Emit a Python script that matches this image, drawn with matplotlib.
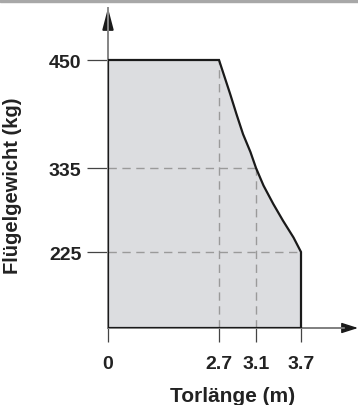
import numpy as np
import matplotlib
matplotlib.use("Agg")
import matplotlib.pyplot as plt
from matplotlib.patches import Rectangle

plt.rcParams['font.family'] = ['Liberation Sans', 'DejaVu Sans']

# Werte aus dem Diagramm
x_ticks = [0, 2.7, 3.1, 3.7]
x_labels = ["0", "2.7", "3.1", "3.7"]
y_ticks = [225, 335, 450]
y_labels = ["225", "335", "450"]

# Umriss der zulässigen Fläche (Torlänge m, Gewicht kg)
x_curve = [2.7, 2.76, 2.82, 2.89, 2.96, 3.04, 3.1, 3.2, 3.33, 3.46, 3.6, 3.7]
y_curve = [450, 432, 414, 392, 371, 352, 335, 312, 288, 266, 244, 225]
y_base = 0

# schematische (nicht lineare) Achsen: Stützstellen Daten -> Pixel
x_knots = [0, 2.7, 3.1, 3.7, 4.5]
x_pix = [0, 111, 148, 193, 250]
y_knots = [0, 225, 335, 450, 560]
y_pix = [0, 76, 160, 268, 320]


def fx(v):
    return np.interp(v, x_knots, x_pix)


def ix(v):
    return np.interp(v, x_pix, x_knots)


def fy(v):
    return np.interp(v, y_knots, y_pix)


def iy(v):
    return np.interp(v, y_pix, y_knots)


W, H = 358, 406
fig = plt.figure(figsize=(W / 100, H / 100), dpi=100)
ax = fig.add_axes([108 / W, 77 / H, 250 / W, 320 / H])
ax.set_xscale('function', functions=(fx, ix))
ax.set_yscale('function', functions=(fy, iy))
ax.set_xlim(0, 4.5)
ax.set_ylim(0, 560)

# grauer Balken oben
fig.patches.append(Rectangle((0, 1 - 3 / H), 1, 3 / H, transform=fig.transFigure,
                             color='#a8a8a8', zorder=0))

# Fläche
xs = [0, 0] + x_curve + [x_curve[-1], 0]
ys = [y_base, 450] + y_curve + [y_base, y_base]
ax.fill(xs, ys, color='#dcdde0', zorder=1)

# Hilfslinien gestrichelt
dash = dict(color='#9a9a9a', lw=1.0, ls=(0, (6, 4)), zorder=2)
ax.plot([0, 3.1], [335, 335], **dash)
ax.plot([0, 3.7], [225, 225], **dash)
ax.plot([2.7, 2.7], [y_base, 450], **dash)
ax.plot([3.1, 3.1], [y_base, 335], **dash)

# Achsen mit Pfeilen
ax.annotate('', xy=(0, 1), xytext=(0, 0), xycoords='axes fraction',
            arrowprops=dict(arrowstyle='-|>,head_length=13,head_width=3.4',
                            mutation_scale=1, color='#1a1a1a', lw=1.4,
                            shrinkA=0, shrinkB=0), zorder=2)
ax.plot([0, 0], [y_base, 560], color='#8a8a8a', lw=1.4, zorder=2, clip_on=False)
ax.annotate('', xy=(1, 0), xytext=(0, 0), xycoords='axes fraction',
            arrowprops=dict(arrowstyle='-|>,head_length=10,head_width=3.2',
                            mutation_scale=1, color='#1a1a1a', lw=1.0,
                            shrinkA=0, shrinkB=0), zorder=2)
ax.plot([0, 4.3], [y_base, y_base], color='#8a8a8a', lw=1.2, zorder=2, clip_on=False)

# Umriss
ax.plot(xs, ys, color='#1a1a1a', lw=1.6, zorder=3, solid_joinstyle='miter')

for s in ax.spines.values():
    s.set_visible(False)
ax.patch.set_visible(False)

ax.set_xticks(x_ticks)
ax.set_xticklabels(x_labels, fontsize=14, fontweight='bold', color='#222222')
ax.set_yticks(y_ticks)
ax.set_yticklabels(y_labels, fontsize=14, fontweight='bold', color='#222222')
ax.minorticks_off()
ax.tick_params(axis='x', length=10, width=0.9, color='#444444', pad=9.5)
ax.tick_params(axis='y', length=15, width=0.9, color='#444444', pad=4)

ax.set_xlabel("Torlänge (m)", fontsize=15, fontweight='bold', color='#222222', labelpad=10)
ax.set_ylabel("Flügelgewicht (kg)", fontsize=14.5, fontweight='bold', color='#222222')
ax.yaxis.set_label_coords(-86 / 250, (329 - 186) / 320)

fig.savefig("out.png", dpi=100)
